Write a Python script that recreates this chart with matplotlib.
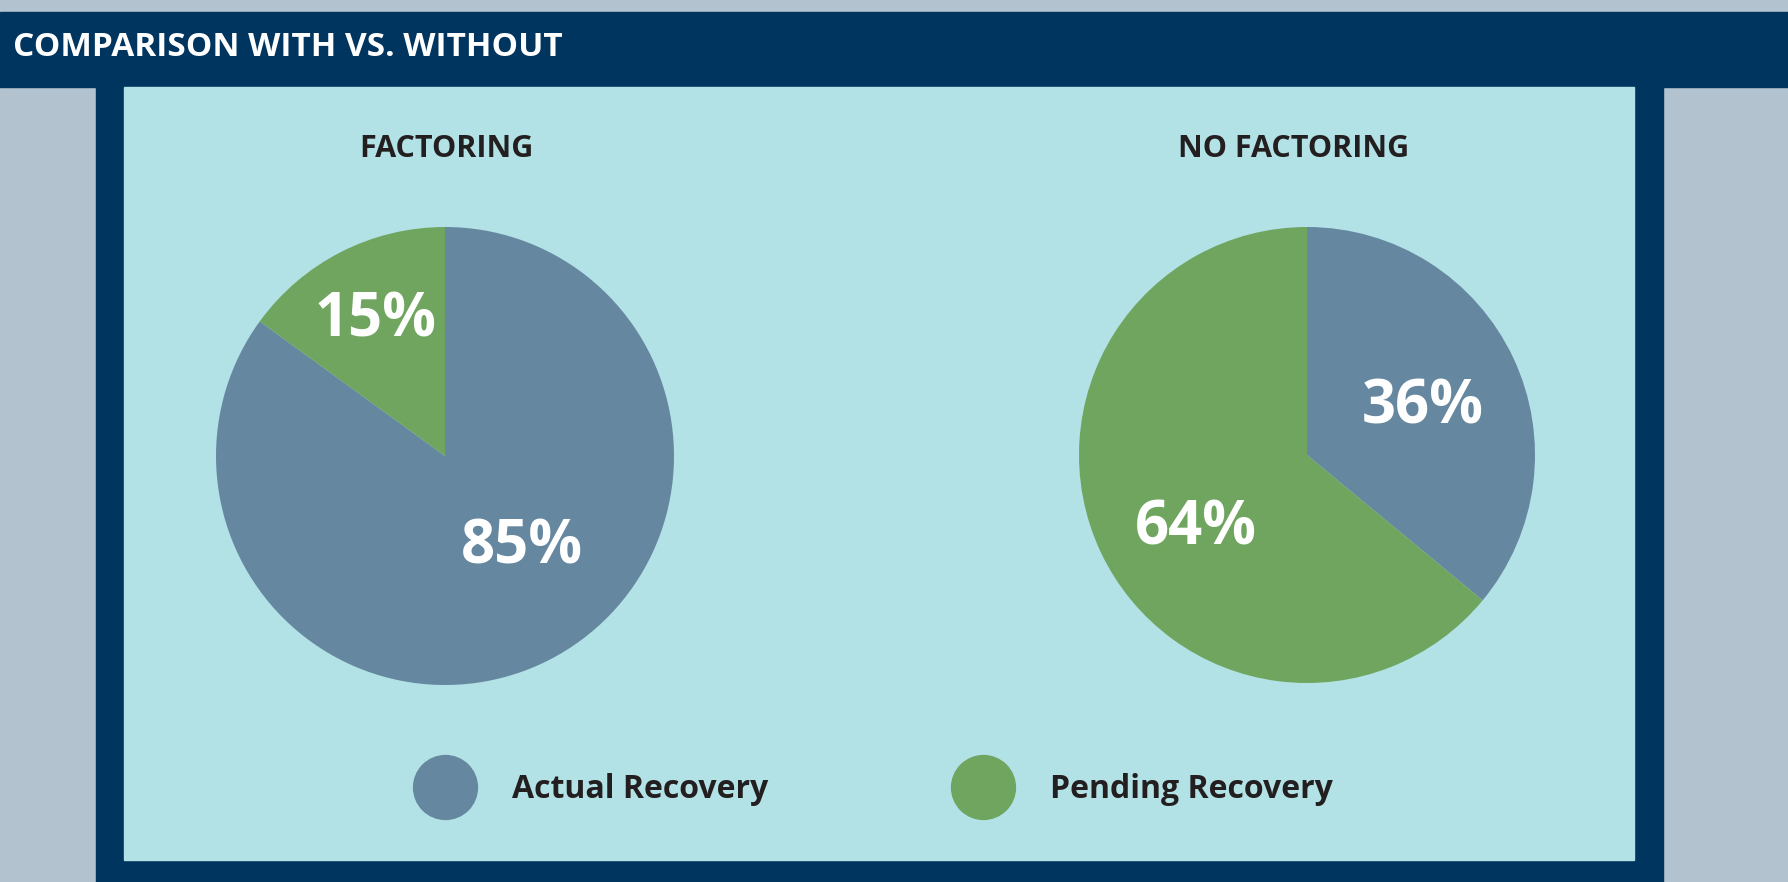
import numpy as np
import matplotlib.pyplot as plt
from matplotlib.patches import Rectangle
from matplotlib.lines import Line2D
from matplotlib.transforms import offset_copy

# data
chart_title = "COMPARISON WITH VS. WITHOUT"
pie_titles = ["FACTORING", "NO FACTORING"]
categories = ["Actual Recovery", "Pending Recovery"]
factoring = [85, 15]
no_factoring = [36, 64]

# colours
gray_bg = "#B2C2CF"
navy = "#00355F"
panel = "#B2E2E6"
blue = "#6687A0"
green = "#70A560"
dark_text = "#231F20"
colors = [blue, green]

W, H = 1788, 882
fig = plt.figure(figsize=(W / 100, H / 100), dpi=100)
fig.patch.set_facecolor(gray_bg)
plt.rcParams['font.family'] = ['Open Sans', 'DejaVu Sans']


def px_rect(x0, y0, x1, y1, color):
    # rectangle given in pixel coords from the top-left corner
    fig.patches.append(Rectangle((x0 / W, 1 - y1 / H), (x1 - x0) / W, (y1 - y0) / H,
                                 transform=fig.transFigure, color=color, zorder=-1))


px_rect(0, 12, W, 87, navy)        # banner
px_rect(96, 87, 1663, H, navy)     # frame
px_rect(124, 87, 1634, 860, panel)  # inner panel

fig.text(13 / W, 1 - 48 / H, chart_title, color="white", fontsize=24,
         fontweight="bold", ha="left", va="center")


def draw_pie(cx, cy, r, values, title, title_x, label_angles):
    ax = fig.add_axes([(cx - r) / W, 1 - (cy + r) / H, 2 * r / W, 2 * r / H])
    ax.pie(values, colors=colors, startangle=90, counterclock=False,
           radius=1, wedgeprops=dict(linewidth=0))
    ax.set_xlim(-1, 1)
    ax.set_ylim(-1, 1)
    ax.set_aspect('equal')
    ax.axis('off')
    # labels sit a little lower than the plain centre position
    tr = offset_copy(ax.transData, fig=fig, x=0, y=-5, units='points')
    for v, (ang, dist) in zip(values, label_angles):
        a = np.deg2rad(ang)
        ax.text(dist * np.cos(a), dist * np.sin(a), f"{v}%", color="white",
                fontsize=43, fontweight="bold", ha="center", va="center",
                transform=tr)
    fig.text(title_x / W, 1 - 149 / H, title, color=dark_text, fontsize=22,
             fontweight="bold", ha="center", va="center")


draw_pie(445, 456, 229, factoring, pie_titles[0], 446, [(-48, 0.5), (116, 0.69)])
draw_pie(1307, 455, 228, no_factoring, pie_titles[1], 1294, [(25, 0.56), (211, 0.57)])

handles = [Line2D([], [], marker='o', linestyle='none', markersize=47,
                  markerfacecolor=c, markeredgewidth=0) for c in colors]
fig.legend(handles, categories, loc='center', bbox_to_anchor=(873 / W, 1 - 790 / H),
           ncol=2, frameon=False, handlelength=2.0, handletextpad=1.12,
           columnspacing=5.7, prop=dict(size=23, weight='bold'),
           labelcolor=dark_text)

fig.savefig("out.png", dpi=100, facecolor=fig.get_facecolor())
